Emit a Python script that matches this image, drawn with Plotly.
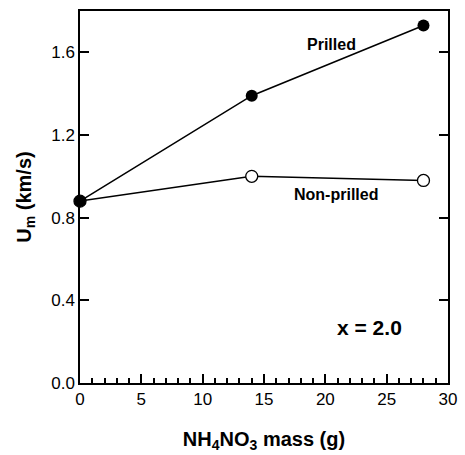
import plotly.graph_objects as go

mass = [0, 14, 28]
prilled = [0.88, 1.39, 1.73]
non_prilled = [0.88, 1.00, 0.98]

fig = go.Figure()
fig.add_trace(go.Scatter(x=mass, y=non_prilled, mode="lines+markers",
                         line=dict(color="black", width=1.5),
                         marker=dict(symbol="circle", size=12, color="white",
                                     line=dict(color="black", width=1.3)),
                         showlegend=False, cliponaxis=False))
fig.add_trace(go.Scatter(x=mass, y=prilled, mode="lines+markers",
                         line=dict(color="black", width=1.5),
                         marker=dict(symbol="circle", size=12, color="black"),
                         showlegend=False, cliponaxis=False))

tickfont = dict(family="Liberation Sans Narrow, Arial Narrow, sans-serif", size=17, color="black")
titlefont = dict(family="Liberation Sans, Arial, sans-serif", size=20, color="black")

fig.update_layout(
    xaxis=dict(range=[0, 30], tickmode="linear", dtick=5, tick0=0, showgrid=False, zeroline=False,
               showline=True, linecolor="black", linewidth=1.5, mirror=True,
               ticks="inside", ticklen=9, tickwidth=2, tickcolor="black",
               minor=dict(ticks="inside", dtick=1, ticklen=5, tickwidth=1.5, tickcolor="black"),
               tickfont=tickfont, ticklabeloverflow="allow",
               title=dict(text="<b>NH<sub>4</sub>NO<sub>3</sub> mass (g)</b>", font=titlefont, standoff=24)),
    xaxis2=dict(range=[0, 30], tickmode="linear", dtick=5, tick0=0, overlaying="x", anchor="y", side="top",
                showgrid=False, zeroline=False, showline=False,
                ticks="inside", ticklen=9, tickwidth=2, tickcolor="black",
                minor=dict(ticks="inside", dtick=1, ticklen=5, tickwidth=1.5, tickcolor="black"),
                showticklabels=False),
    yaxis=dict(range=[0, 1.8], tickmode="linear", dtick=0.4, tick0=0, tickformat=".1f", showgrid=False, zeroline=False,
               showline=True, linecolor="black", linewidth=1.5, mirror="ticks",
               ticks="inside", ticklen=9, tickwidth=2, tickcolor="black",
               tickfont=tickfont, ticklabeloverflow="allow",
               title=dict(text="<b>U<sub>m</sub> (km/s)</b>", font=titlefont, standoff=14)),
    yaxis2=dict(range=[0, 1.8], tickmode="linear", dtick=0.1, tick0=0, overlaying="y", anchor="x", side="left",
                showgrid=False, zeroline=False, showline=False,
                ticks="inside", ticklen=5, tickwidth=1.5, tickcolor="black", showticklabels=False),
    yaxis3=dict(range=[0, 1.8], tickmode="linear", dtick=0.1, tick0=0, overlaying="y", anchor="x", side="right",
                showgrid=False, zeroline=False, showline=False,
                ticks="inside", ticklen=5, tickwidth=1.5, tickcolor="black", showticklabels=False),
)

fig.add_annotation(x=20.5, y=1.64, text="<b>Prilled</b>", showarrow=False,
                   font=dict(family="Liberation Sans, Arial, sans-serif", size=16, color="black"))
fig.add_annotation(x=20.9, y=0.91, text="<b>Non-prilled</b>", showarrow=False,
                   font=dict(family="Liberation Sans, Arial, sans-serif", size=16, color="black"))
fig.add_annotation(x=23.6, y=0.27, text="<b>x = 2.0</b>", showarrow=False,
                   font=dict(family="Liberation Sans, Arial, sans-serif", size=21, color="black"))

fig.update_layout(width=465, height=455, plot_bgcolor="white", paper_bgcolor="white",
                  margin=dict(l=80, r=8, t=11, b=69))
fig.write_html("out.html")
